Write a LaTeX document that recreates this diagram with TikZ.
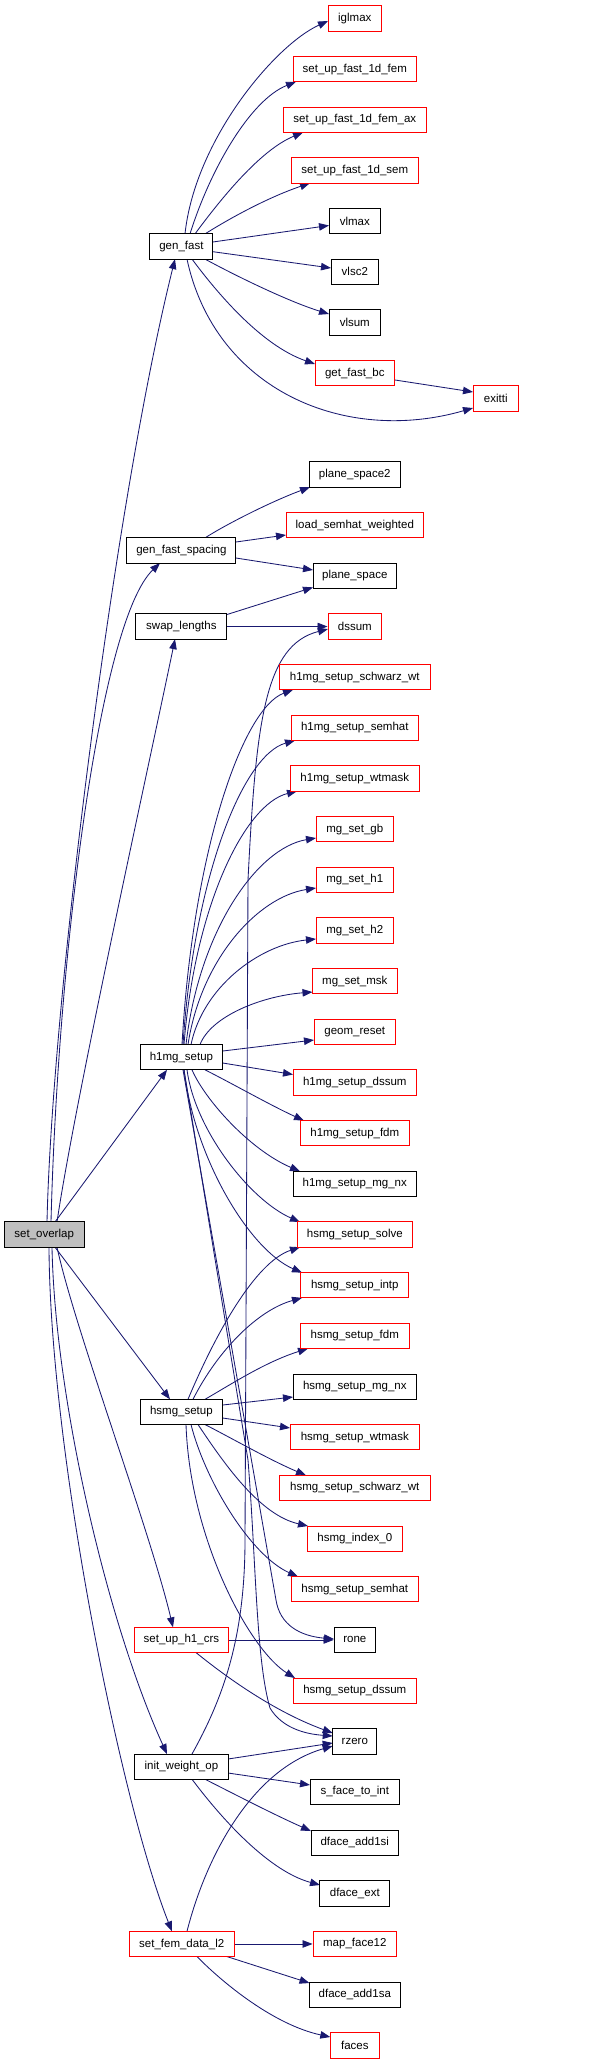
\documentclass[tikz,border=0pt]{standalone}
\usepackage{fontspec}
\setmainfont{Liberation Sans}
\usetikzlibrary{arrows.meta,calc}
\pgfdeclarelayer{bg}
\pgfsetlayers{bg,main}
\definecolor{edgec}{HTML}{191970}
\definecolor{grayfill}{HTML}{BFBFBF}
\begin{document}
\begin{tikzpicture}[x=1pt,y=-1pt,
  nd/.style={draw=black, line width=0.9pt, fill=white, minimum height=25.3pt, inner sep=0pt, font=\fontsize{11.5}{13}\selectfont},
  rd/.style={nd, draw=red},
  e/.style={draw=edgec, line width=0.85pt, -{Triangle[length=10pt,width=7.5pt]}}]
\useasboundingbox (0,0) rectangle (589,2064);
\node[rd,minimum width=53.6pt] (iglmax) at (354.8,18.5) {iglmax};
\node[rd,minimum width=123.6pt] (sufem) at (354.8,69.17) {set\_up\_fast\_1d\_fem};
\node[rd,minimum width=143.6pt] (sufemax) at (354.8,119.84) {set\_up\_fast\_1d\_fem\_ax};
\node[rd,minimum width=127.6pt] (susem) at (354.8,170.51) {set\_up\_fast\_1d\_sem};
\node[nd,minimum width=51.6pt] (vlmax) at (354.8,221.18) {vlmax};
\node[nd,minimum width=63pt] (genfast) at (181.4,246.5) {gen\_fast};
\node[nd,minimum width=47.6pt] (vlsc2) at (354.8,271.85) {vlsc2};
\node[nd,minimum width=51.6pt] (vlsum) at (354.8,322.52) {vlsum};
\node[rd,minimum width=79.6pt] (getfastbc) at (354.8,373.19) {get\_fast\_bc};
\node[rd,minimum width=45pt] (exitti) at (495.8,398.5) {exitti};
\node[nd,minimum width=91.6pt] (ps2) at (354.8,474.53) {plane\_space2};
\node[rd,minimum width=137.6pt] (lsw) at (354.8,525.2) {load\_semhat\_weighted};
\node[nd,minimum width=109pt] (gfs) at (181.4,550.5) {gen\_fast\_spacing};
\node[nd,minimum width=83.6pt] (ps) at (354.8,575.87) {plane\_space};
\node[nd,minimum width=91pt] (swap) at (181.4,626.54) {swap\_lengths};
\node[rd,minimum width=53.6pt] (dssum) at (354.8,626.54) {dssum};
\node[rd,minimum width=151.6pt] (hschw) at (354.8,677.21) {h1mg\_setup\_schwarz\_wt};
\node[rd,minimum width=127.6pt] (hsemhat) at (354.8,727.88) {h1mg\_setup\_semhat};
\node[rd,minimum width=129.6pt] (hwtmask) at (354.8,778.55) {h1mg\_setup\_wtmask};
\node[rd,minimum width=77.6pt] (mggb) at (354.8,829.22) {mg\_set\_gb};
\node[rd,minimum width=77.6pt] (mgh1) at (354.8,879.89) {mg\_set\_h1};
\node[rd,minimum width=77.6pt] (mgh2) at (354.8,930.56) {mg\_set\_h2};
\node[rd,minimum width=85.6pt] (mgmsk) at (354.8,981.23) {mg\_set\_msk};
\node[rd,minimum width=81.6pt] (geom) at (354.8,1031.9) {geom\_reset};
\node[nd,minimum width=82.7pt] (h1mg) at (181.4,1057.2) {h1mg\_setup};
\node[rd,minimum width=123.6pt] (hdssum) at (354.8,1082.57) {h1mg\_setup\_dssum};
\node[rd,minimum width=109.6pt] (hfdm) at (354.8,1133.24) {h1mg\_setup\_fdm};
\node[nd,minimum width=123.6pt] (hmgnx) at (354.8,1183.91) {h1mg\_setup\_mg\_nx};
\node[nd,fill=grayfill,minimum width=79.7pt] (so) at (44.2,1234.58) {set\_overlap};
\node[rd,minimum width=115.6pt] (ssolve) at (354.8,1234.58) {hsmg\_setup\_solve};
\node[rd,minimum width=108.2pt] (sintp) at (354.8,1285.25) {hsmg\_setup\_intp};
\node[rd,minimum width=109.6pt] (sfdm) at (354.8,1335.92) {hsmg\_setup\_fdm};
\node[nd,minimum width=123.6pt] (smgnx) at (354.8,1386.59) {hsmg\_setup\_mg\_nx};
\node[nd,minimum width=82.7pt] (hsmg) at (181.4,1411.9) {hsmg\_setup};
\node[rd,minimum width=129.6pt] (swtmask) at (354.8,1437.26) {hsmg\_setup\_wtmask};
\node[rd,minimum width=151.6pt] (sschw) at (354.8,1487.93) {hsmg\_setup\_schwarz\_wt};
\node[rd,minimum width=95.6pt] (sidx) at (354.8,1538.6) {hsmg\_index\_0};
\node[rd,minimum width=127.6pt] (ssemhat) at (354.8,1589.27) {hsmg\_setup\_semhat};
\node[rd,minimum width=94.7pt] (h1crs) at (181.4,1639.94) {set\_up\_h1\_crs};
\node[nd,minimum width=41.6pt] (rone) at (354.8,1639.94) {rone};
\node[rd,minimum width=123.6pt] (sdssum) at (354.8,1690.61) {hsmg\_setup\_dssum};
\node[nd,minimum width=44.2pt] (rzero) at (354.8,1741.28) {rzero};
\node[nd,minimum width=93.3pt] (iwo) at (181.4,1766.6) {init\_weight\_op};
\node[nd,minimum width=89.6pt] (sfti) at (354.8,1791.95) {s\_face\_to\_int};
\node[nd,minimum width=87.6pt] (dfa1si) at (354.8,1842.62) {dface\_add1si};
\node[nd,minimum width=70.2pt] (dfext) at (354.8,1893.29) {dface\_ext};
\node[rd,minimum width=105.3pt] (sfem) at (181.7,1943.96) {set\_fem\_data\_l2};
\node[rd,minimum width=83.6pt] (mapf) at (354.8,1943.96) {map\_face12};
\node[nd,minimum width=91pt] (dfa1sa) at (354.8,1994.63) {dface\_add1sa};
\node[rd,minimum width=49pt] (faces) at (354.8,2045.3) {faces};
\begin{pgfonlayer}{bg}
% set_overlap
\draw[e] ($(so)+(2.8,-12.6)$) .. controls (52,1000) and (115,500) .. ($(genfast)+(-6.4,12.6)$);
\draw[e] ($(so)+(6.8,-12.6)$) .. controls (58,950) and (100,620) .. ($(gfs)+(-21.4,12.6)$);
\draw[e] ($(so)+(12.8,-12.6)$) .. controls (75,1100) and (150,760) .. ($(swap)+(-6.4,12.6)$);
\draw[e] ($(so)+(10.8,-12.6)$) -- ($(h1mg)+(-14.4,12.6)$);
\draw[e] ($(so)+(10.8,12.6)$) -- ($(hsmg)+(-11.4,-12.6)$);
\draw[e] ($(so)+(12.8,12.6)$) .. controls (75,1330) and (150,1530) .. ($(h1crs)+(-8.4,-12.6)$);
\draw[e] ($(so)+(7.8,12.6)$) .. controls (55,1400) and (108,1625) .. ($(iwo)+(-14.4,-12.6)$);
\draw[e] ($(so)+(4.8,12.6)$) .. controls (50,1450) and (120,1800) .. ($(sfem)+(-9.7,-12.6)$);
% gen_fast
\draw[e] ($(genfast)+(3.6,-12.6)$) .. controls (195,140) and (275,45) .. ($(iglmax)+(-26.8,2.5)$);
\draw[e] ($(genfast)+(8.6,-12.6)$) .. controls (210,170) and (250,100) .. ($(sufem)+(-58.8,12.6)$);
\draw[e] ($(genfast)+(13.6,-12.6)$) .. controls (220,200) and (260,150) .. ($(sufemax)+(-51.8,12.6)$);
\draw[e] ($(genfast)+(23.6,-12.6)$) .. controls (240,212) and (275,195) .. ($(susem)+(-44.8,12.6)$);
\draw[e] ($(genfast)+(31.5,-4.5)$) -- ($(vlmax)+(-25.8,4.3)$);
\draw[e] ($(genfast)+(31.5,5.2)$) -- ($(vlsc2)+(-23.8,-3.85)$);
\draw[e] ($(genfast)+(23.6,12.6)$) .. controls (240,278) and (290,302) .. ($(vlsum)+(-25.8,-8.5)$);
\draw[e] ($(genfast)+(10.6,12.6)$) .. controls (215,290) and (260,345) .. ($(getfastbc)+(-39.8,-9.2)$);
\draw[e] ($(genfast)+(5.6,12.6)$) .. controls (215,390) and (345,445) .. ($(exitti)+(-22.8,9.5)$);
\draw[e] ($(getfastbc)+(40.2,6.8)$) -- ($(exitti)+(-22.8,-6.5)$);
% gen_fast_spacing
\draw[e] ($(gfs)+(23.6,-12.6)$) .. controls (225,525) and (270,502) .. ($(ps2)+(-44.8,12.6)$);
\draw[e] ($(gfs)+(54.5,-8.5)$) -- ($(lsw)+(-68.8,9.8)$);
\draw[e] ($(gfs)+(54.5,7.5)$) -- ($(ps)+(-41.8,-5.9)$);
% swap_lengths
\draw[e] ($(swap)+(45.5,-12)$) -- ($(ps)+(-41.8,11.5)$);
\draw[e] (swap.east) -- (dssum.west);
% h1mg_setup
\draw[e] ($(h1mg)+(0.6,-12.6)$) .. controls (193,850) and (243,708) .. ($(hschw)+(-61.8,12.6)$);
\draw[e] ($(h1mg)+(1.6,-12.6)$) .. controls (194,877) and (243,755) .. ($(hsemhat)+(-59.8,12.6)$);
\draw[e] ($(h1mg)+(2.6,-12.6)$) .. controls (195,905) and (245,804) .. ($(hwtmask)+(-57.8,12.6)$);
\draw[e] ($(h1mg)+(4.6,-12.6)$) .. controls (199,931) and (257,848) .. ($(mggb)+(-38.8,8.8)$);
\draw[e] ($(h1mg)+(6.6,-12.6)$) .. controls (201,959) and (258,897) .. ($(mgh1)+(-38.8,8.1)$);
\draw[e] ($(h1mg)+(9.6,-12.6)$) .. controls (203,987) and (259,945) .. ($(mgh2)+(-38.8,8.4)$);
\draw[e] ($(h1mg)+(18.6,-12.6)$) .. controls (211,1016) and (262,996) .. ($(mgmsk)+(-42.3,10.8)$);
\draw[e] ($(h1mg)+(41.35,-6.2)$) -- ($(geom)+(-40.8,8.1)$);
\draw[e] ($(h1mg)+(41.35,5.8)$) -- ($(hdssum)+(-61.8,-8.1)$);
\draw[e] ($(h1mg)+(23.6,12.6)$) .. controls (235,1085) and (270,1105) .. ($(hfdm)+(-50.8,-12.6)$);
\draw[e] ($(h1mg)+(10.6,12.6)$) .. controls (205,1100) and (250,1150) .. ($(hmgnx)+(-54.8,-12.6)$);
\draw[e] ($(h1mg)+(5.6,12.6)$) .. controls (195,1130) and (250,1200) .. ($(ssolve)+(-54.8,-12.6)$);
\draw[e] ($(h1mg)+(2.6,12.6)$) .. controls (195,1160) and (250,1250) .. ($(sintp)+(-52.8,-12.6)$);
\draw[e] ($(h1mg)+(1.6,12.6)$) -- (276,1600) .. controls (280,1625) and (300,1636) .. ($(rone)+(-20.8,-0.9)$);
\draw[e] ($(h1mg)+(2.6,12.6)$) -- (248,1460) .. controls (256,1560) and (256,1660) .. (270,1708) .. controls (282,1728) and (305,1734) .. ($(rzero)+(-22.1,-5.3)$);
% hsmg_setup
\draw[e] ($(hsmg)+(6.6,-12.6)$) .. controls (215,1335) and (255,1262) .. ($(ssolve)+(-54.8,12.6)$);
\draw[e] ($(hsmg)+(11.6,-12.6)$) .. controls (218,1350) and (258,1310) .. ($(sintp)+(-52.8,12.6)$);
\draw[e] ($(hsmg)+(23.6,-12.6)$) .. controls (230,1385) and (265,1362) .. ($(sfdm)+(-46.8,12.6)$);
\draw[e] ($(hsmg)+(41.35,-6.9)$) -- ($(smgnx)+(-61.8,10.4)$);
\draw[e] ($(hsmg)+(41.35,6.1)$) -- ($(swtmask)+(-64.8,-9.3)$);
\draw[e] ($(hsmg)+(23.6,12.6)$) .. controls (235,1440) and (270,1460) .. ($(sschw)+(-48.8,-12.6)$);
\draw[e] ($(hsmg)+(16.6,12.6)$) .. controls (225,1465) and (260,1515) .. ($(sidx)+(-46.8,-12.6)$);
\draw[e] ($(hsmg)+(9.6,12.6)$) .. controls (205,1480) and (250,1555) .. ($(ssemhat)+(-56.8,-12.6)$);
\draw[e] ($(hsmg)+(4.6,12.6)$) .. controls (190,1540) and (250,1650) .. ($(sdssum)+(-59.8,-12.6)$);
% set_up_h1_crs
\draw[e] (h1crs.east) -- (rone.west);
\draw[e] ($(h1crs)+(14.6,12.6)$) .. controls (220,1672) and (270,1710) .. ($(rzero)+(-22.1,-8.3)$);
% init_weight_op
\draw[e] ($(iwo)+(10.6,-12.6)$) .. controls (222,1700) and (245,1640) .. (245,1540) -- (248,880) .. controls (256,720) and (265,645) .. ($(dssum)+(-26.8,2.5)$);
\draw[e] ($(iwo)+(46.6,-7.6)$) -- ($(rzero)+(-22.1,1.7)$);
\draw[e] ($(iwo)+(46.6,6.4)$) -- ($(sfti)+(-44.8,-7)$);
\draw[e] ($(iwo)+(23.6,12.6)$) .. controls (240,1797) and (275,1815) .. ($(dfa1si)+(-43.8,-11.6)$);
\draw[e] ($(iwo)+(10.6,12.6)$) .. controls (215,1810) and (265,1870) .. ($(dfext)+(-34.8,-8.3)$);
% set_fem_data_l2
\draw[e] ($(sfem)+(5.3,-12.6)$) .. controls (205,1860) and (250,1770) .. ($(rzero)+(-22.1,4.7)$);
\draw[e] (sfem.east) -- (mapf.west);
\draw[e] ($(sfem)+(45.3,12.6)$) -- ($(dfa1sa)+(-45.3,-11.6)$);
\draw[e] ($(sfem)+(15.3,12.6)$) .. controls (225,1985) and (275,2025) .. ($(faces)+(-24.5,-8.3)$);
\end{pgfonlayer}
\end{tikzpicture}
\end{document}
